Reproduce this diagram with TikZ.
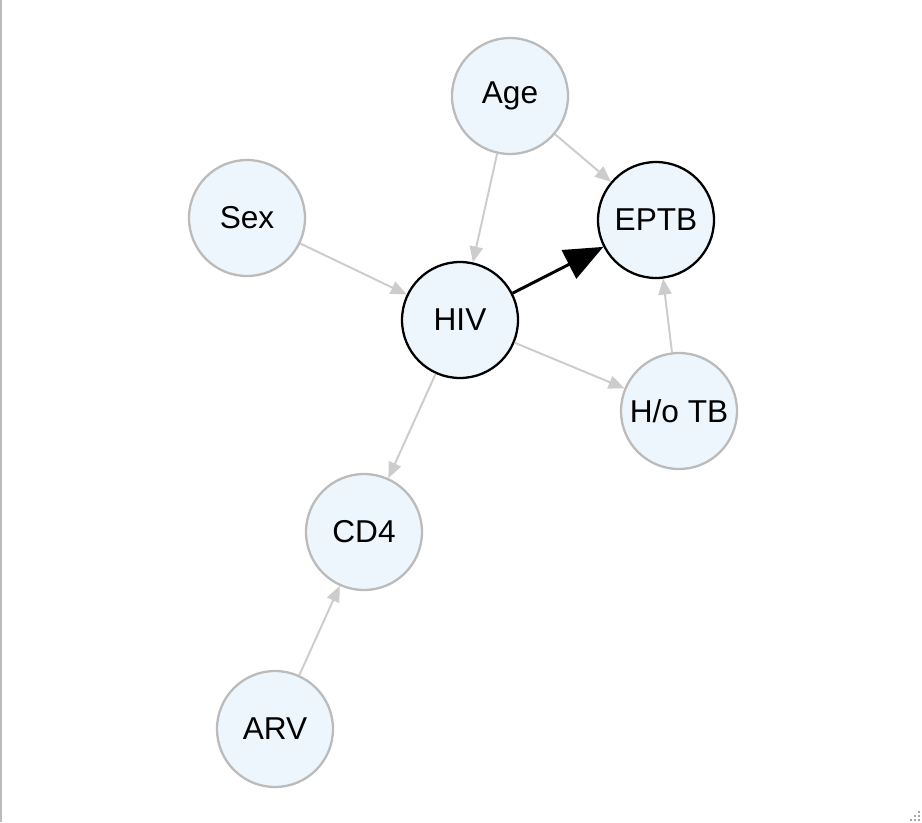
\documentclass[tikz,border=0pt]{standalone}
\usepackage{fontspec}
\setmainfont{Liberation Sans}
\usepackage{tikz}
\usetikzlibrary{arrows.meta}
\definecolor{nodefill}{HTML}{EEF6FD}
\definecolor{nodeline}{HTML}{BBBBBB}
\definecolor{edgeline}{HTML}{CCCCCC}
\tikzstyle{var} = [circle, minimum size=2.32cm, inner sep=0pt, line width=1.3pt, draw=nodeline, fill=nodefill, font=\fontsize{18}{21}\selectfont]
\tikzstyle{focus} = [var, draw=black]
\tikzstyle{arrowg} = [line width=1.1pt, draw=edgeline, -{Triangle[length=9pt, width=7.5pt]}]
\tikzstyle{arrowb} = [line width=1.7pt, draw=black, -{Triangle[length=22pt, width=18pt]}]

\begin{document}
\begin{tikzpicture}[x=0.02cm, y=-0.02cm]
            \useasboundingbox (0,0) rectangle (922,822);
            \fill[white] (0,0) rectangle (922,822);
            \fill[nodeline] (0,0) rectangle (2,822);

            % Nodes
            \node (age) [var] at (510,96) {Age};
            \node (sex) [var] at (247,218) {Sex};
            \node (eptb) [focus] at (656,220) {EPTB};
            \node (hiv) [focus] at (460,320) {HIV};
            \node (hotb) [var] at (679,411) {H/o TB};
            \node (cd4) [var] at (364,532) {CD4};
            \node (arv) [var] at (275,729) {ARV};

            % Edges
            \draw [arrowg] (age) -- (eptb);
            \draw [arrowg] (age) -- (hiv);
            \draw [arrowg] (sex) -- (hiv);
            \draw [arrowg] (hiv) -- (hotb);
            \draw [arrowg] (hotb) -- (eptb);
            \draw [arrowg] (hiv) -- (cd4);
            \draw [arrowg] (arv) -- (cd4);
            \draw [arrowb] (hiv) -- (eptb);

            % Resize grip
            \foreach \p in {(918,811),(914,815),(918,815),(910,819),(914,819),(918,819)}
                \fill[gray!70] \p rectangle ++(2,2);

        \end{tikzpicture}
\end{document}
